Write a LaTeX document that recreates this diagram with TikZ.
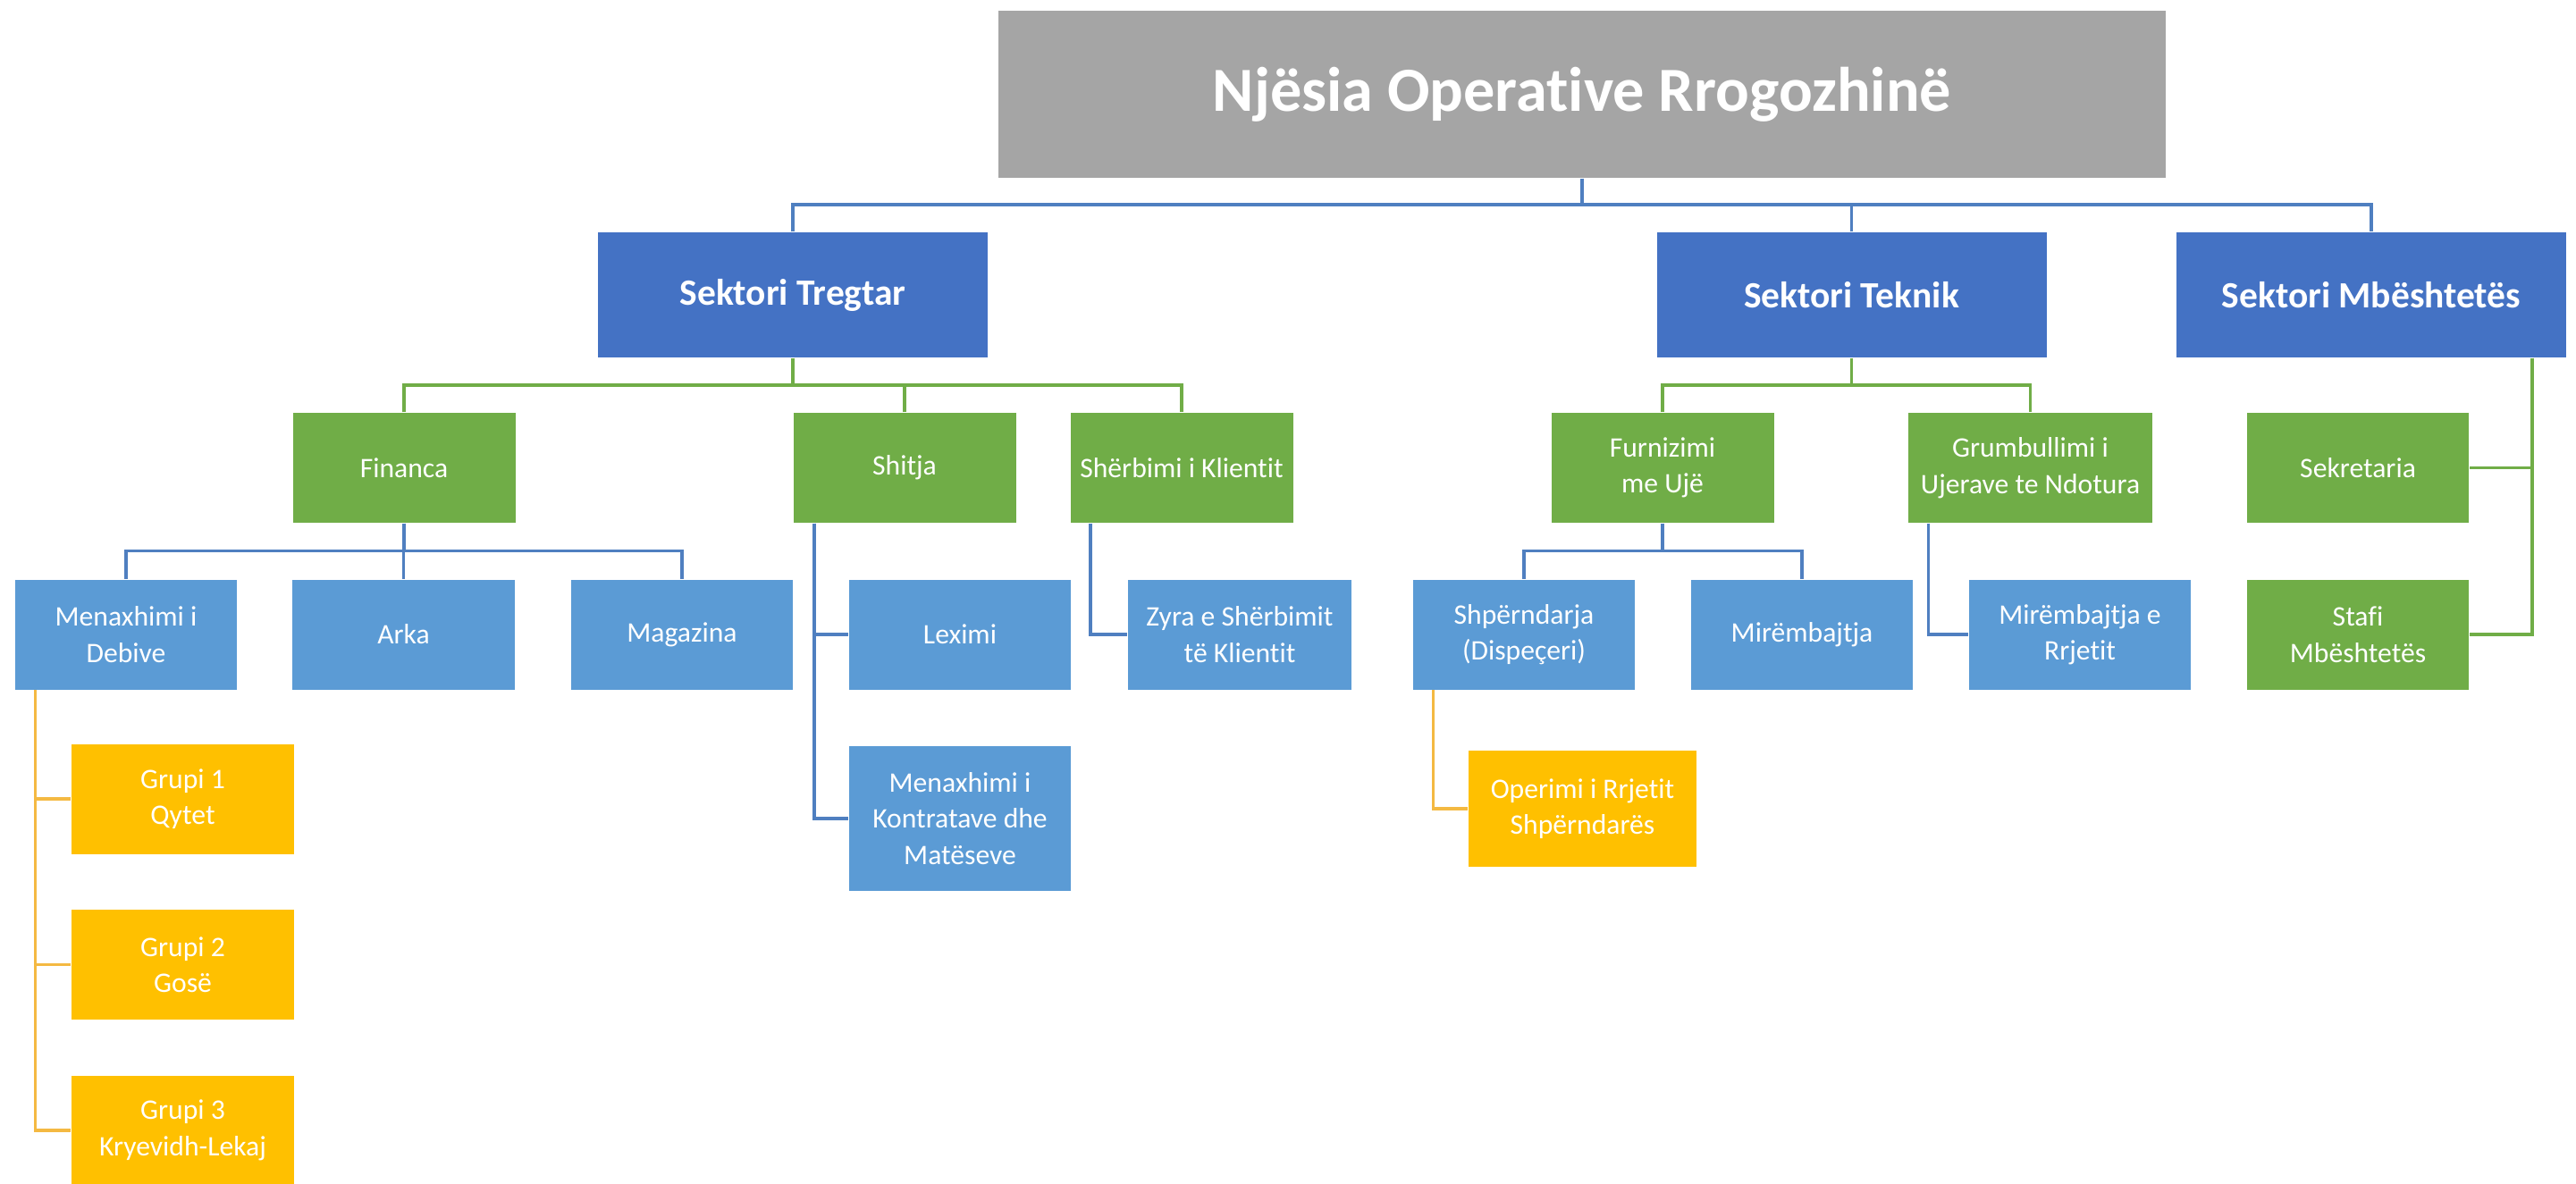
\documentclass[tikz,border=0pt]{standalone}
\usepackage{fontspec}
\setmainfont{Carlito}[Ligatures={NoCommon}]
\definecolor{gry}{HTML}{A5A5A5}
\definecolor{dblue}{HTML}{4472C4}
\definecolor{lblue}{HTML}{5B9BD5}
\definecolor{grn}{HTML}{70AD47}
\definecolor{org}{HTML}{FFC000}
\definecolor{lnblue}{HTML}{4F7FC0}
\definecolor{lnorg}{HTML}{F4B942}

\begin{document}
\begin{tikzpicture}[y=-1cm,
	box/.style={rectangle,white,inner sep=0pt,align=center,font=\fontsize{9}{11.5}\selectfont,minimum width=2.49cm,minimum height=1.23cm},
	tbox/.style={box,fill=gry,font=\fontsize{20}{24}\selectfont\bfseries,minimum width=13.06cm,minimum height=1.87cm},
	sbox/.style={box,fill=dblue,font=\fontsize{11.8}{14}\selectfont\bfseries,minimum width=4.36cm,minimum height=1.40cm},
	gbox/.style={box,fill=grn},
	bbox/.style={box,fill=lblue},
	obox/.style={box,fill=org},
	topline/.style={draw=lnblue,line width=1pt},
	gline/.style={draw=grn,line width=1pt},
	bline/.style={draw=lnblue,line width=1pt},
	oline/.style={draw=lnorg,line width=1pt}]
	\useasboundingbox (0,0) rectangle (28.82,13.24);

	% levels
	\node[tbox] (title) at (17.70,1.055) {Njësia Operative Rrogozhinë};

	\node[sbox] (tregtar) at (8.87,3.30) {Sektori Tregtar};
	\node[sbox] (teknik) at (20.715,3.30) {Sektori Teknik};
	\node[sbox] (mbesht) at (26.53,3.30) {Sektori Mbështetës};

	\node[gbox] (financa) at (4.52,5.235) {Financa};
	\node[gbox] (shitja) at (10.12,5.235) {Shitja};
	\node[gbox] (sherbimi) at (13.22,5.235) {Shërbimi i Klientit};
	\node[gbox] (furnizimi) at (18.60,5.235) {Furnizimi\\me Ujë};
	\node[gbox,minimum width=2.73cm] (grumbullimi) at (22.715,5.235) {Grumbullimi i\\Ujerave te Ndotura};
	\node[gbox,minimum width=2.48cm] (sekretaria) at (26.38,5.235) {Sekretaria};
	\node[gbox,minimum width=2.48cm] (stafi) at (26.38,7.10) {Stafi\\Mbështetës};

	\node[bbox,minimum width=2.48cm] (debive) at (1.41,7.10) {Menaxhimi i\\Debive};
	\node[bbox] (arka) at (4.515,7.10) {Arka};
	\node[bbox,minimum width=2.48cm] (magazina) at (7.63,7.10) {Magazina};
	\node[bbox,minimum width=2.48cm] (leximi) at (10.74,7.10) {Leximi};
	\node[bbox,minimum width=2.48cm,minimum height=1.62cm] (kontratave) at (10.74,9.16) {Menaxhimi i\\Kontratave dhe\\Matëseve};
	\node[bbox,minimum width=2.50cm] (zyra) at (13.87,7.10) {Zyra e Shërbimit\\të Klientit};
	\node[bbox,minimum width=2.48cm] (shperndarja) at (17.05,7.10) {Shpërndarja\\(Dispeçeri)};
	\node[bbox,minimum width=2.48cm] (mirembajtja) at (20.16,7.10) {Mirëmbajtja};
	\node[bbox,minimum width=2.48cm] (rrjetit) at (23.27,7.10) {Mirëmbajtja e\\Rrjetit};

	\node[obox,minimum width=2.55cm,minimum height=1.30cm] (operimi) at (17.705,9.05) {Operimi i Rrjetit\\Shpërndarës};
	\node[obox] (grupi1) at (2.045,8.94) {Grupi 1\\Qytet};
	\node[obox] (grupi2) at (2.045,10.795) {Grupi 2\\Gosë};
	\node[obox] (grupi3) at (2.045,12.65) {Grupi 3\\Kryevidh-Lekaj};

	% buses
	\coordinate (busA) at (0,2.29);
	\coordinate (busB) at (0,4.31);
	\coordinate (busC) at (0,6.165);

	% connectors
	\draw[topline] (title.south) -- (title.south |- busA);
	\draw[topline] (tregtar.north) |- (mbesht.north |- busA) -- (mbesht.north);
	\draw[topline] (teknik.north) -- (teknik.north |- busA);

	\draw[gline] (tregtar.south) -- (tregtar.south |- busB);
	\draw[gline] (financa.north) |- (sherbimi.north |- busB) -- (sherbimi.north);
	\draw[gline] (shitja.north) -- (shitja.north |- busB);
	\draw[gline] (teknik.south) -- (teknik.south |- busB);
	\draw[gline] (furnizimi.north) |- (grumbullimi.north |- busB) -- (grumbullimi.north);
	\draw[gline] ([xshift=-0.39cm]mbesht.south east) |- (sekretaria.east);
	\draw[gline] ([xshift=-0.39cm]mbesht.south east) |- (stafi.east);

	\draw[bline] (financa.south) -- (financa.south |- busC);
	\draw[bline] (debive.north) |- (magazina.north |- busC) -- (magazina.north);
	\draw[bline] (arka.north) -- (arka.north |- busC);
	\draw[bline] (furnizimi.south) -- (furnizimi.south |- busC);
	\draw[bline] (shperndarja.north) |- (mirembajtja.north |- busC) -- (mirembajtja.north);
	\draw[bline] ([xshift=0.24cm]shitja.south west) |- (leximi.west);
	\draw[bline] ([xshift=0.24cm]shitja.south west) |- (kontratave.west);
	\draw[bline] ([xshift=0.23cm]sherbimi.south west) |- (zyra.west);
	\draw[bline] ([xshift=0.23cm]grumbullimi.south west) |- (rrjetit.west);

	\draw[oline] ([xshift=0.23cm]debive.south west) |- (grupi1.west);
	\draw[oline] ([xshift=0.23cm]debive.south west) |- (grupi2.west);
	\draw[oline] ([xshift=0.23cm]debive.south west) |- (grupi3.west);
	\draw[oline] ([xshift=0.23cm]shperndarja.south west) |- (operimi.west);
\end{tikzpicture}
\end{document}
